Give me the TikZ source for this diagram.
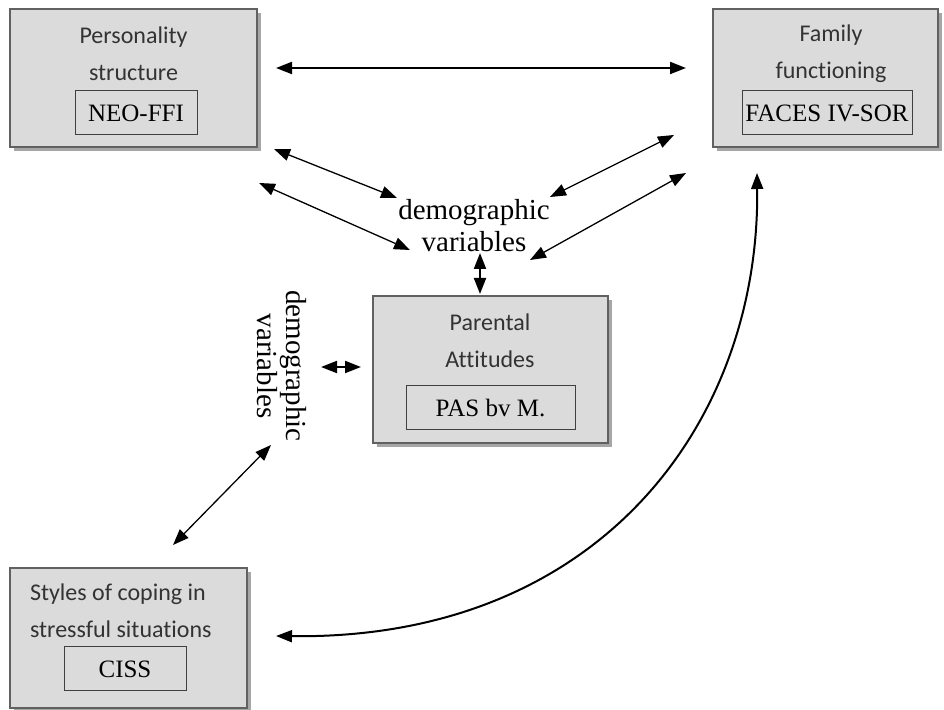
\documentclass[tikz,border=0pt]{standalone}
\usepackage{fontspec}
\setmainfont{Liberation Serif}
\newfontfamily\boxfont[Ligatures=NoCommon]{Carlito}
\usetikzlibrary{arrows.meta,shadows}

\tikzset{
  varbox/.style={draw=black!62,line width=1pt,fill=black!14,
    drop shadow={shadow xshift=2pt,shadow yshift=-2pt,fill=black!35,opacity=1}},
  testbox/.style={draw=black!75,line width=0.5pt,inner sep=0pt,
    font=\fontsize{12.5}{14}\selectfont},
  boxtitle/.style={font=\boxfont\fontsize{12}{18.5}\selectfont,text=black!80,align=center},
  demog/.style={font=\fontsize{14.5}{16}\selectfont,align=center,inner sep=0pt},
  link/.style={{Triangle[length=8pt,width=6pt]}-{Triangle[length=8pt,width=6pt]},line width=0.65pt},
  thicklink/.style={link,line width=1pt}
}

\begin{document}
\begin{tikzpicture}[x=0.5pt,y=-0.5pt]
  \useasboundingbox (0,0) rectangle (944,710);
  % the four measured variables
  \node[varbox,minimum width=123.5pt,minimum height=69pt] (pers) at (133.5,78) {};
  \node[varbox,minimum width=112.5pt,minimum height=69pt] (fam) at (825.5,78) {};
  \node[varbox,minimum width=117.5pt,minimum height=73.5pt] (par) at (490.5,369.5) {};
  \node[varbox,minimum width=118.5pt,minimum height=70pt] (sty) at (128.5,638) {};
  \node[boxtitle] (perst) at (133.5,53.5) {Personality\\structure};
  \node[boxtitle] (famt) at (831,54) {Family\\functioning};
  \node[boxtitle] (part) at (490,341) {Parental\\Attitudes};
  \node[boxtitle,align=left,anchor=west] (styt) at (23,611) {Styles of coping in\\stressful situations};
  % questionnaires
  \node[testbox,minimum width=61pt,minimum height=22pt] (neo) at (136,113) {NEO-FFI};
  \node[testbox,minimum width=85pt,minimum height=22pt] (faces) at (827,113) {FACES IV-SOR};
  \node[testbox,minimum width=84.5pt,minimum height=22pt] (pas) at (490.5,408) {PAS bv M.};
  \node[testbox,minimum width=61pt,minimum height=22pt] (ciss) at (125,669) {CISS};
  \node[demog] (dvtop) at (474,226) {demographic\\variables};
  \node[demog,rotate=-90,font=\fontsize{14.5}{12.5}\selectfont] (dvside) at (282,366) {demographic\\variables};
  % relations
  \draw[thicklink] ([xshift=9pt,yshift=5pt]pers.east) -- ([xshift=-13pt,yshift=5pt]fam.west);
  \draw[link] ([xshift=8pt,yshift=-0.5pt]pers.south east) -- ([xshift=-38.5pt,yshift=14pt]dvtop.center);
  \draw[link] ([xshift=0.5pt,yshift=-17.5pt]pers.south east) -- ([xshift=-32pt,yshift=-12pt]dvtop.center);
  \draw[link] ([xshift=-19pt,yshift=6.5pt]fam.south west) -- ([xshift=38pt,yshift=14.5pt]dvtop.center);
  \draw[link] ([xshift=-13pt,yshift=-12.5pt]fam.south west) -- ([xshift=28pt,yshift=-17pt]dvtop.center);
  \draw[thicklink] ([xshift=3pt,yshift=-13.5pt]dvtop.center) -- ([xshift=-5.25pt,yshift=0.5pt]par.north);
  \draw[thicklink] ([xshift=19.5pt,yshift=-0.5pt]dvside.center) -- ([xshift=-5.5pt,yshift=1.25pt]par.west);
  \draw[link] ([xshift=-5.5pt,yshift=-39.5pt]dvside.center) -- ([xshift=22.25pt,yshift=11pt]sty.north);
  \draw[thicklink] ([xshift=14pt,yshift=1pt]sty.east) .. controls +(325,4) and +(3,248) .. ([xshift=-34.25pt,yshift=-12.5pt]fam.south);
\end{tikzpicture}
\end{document}
